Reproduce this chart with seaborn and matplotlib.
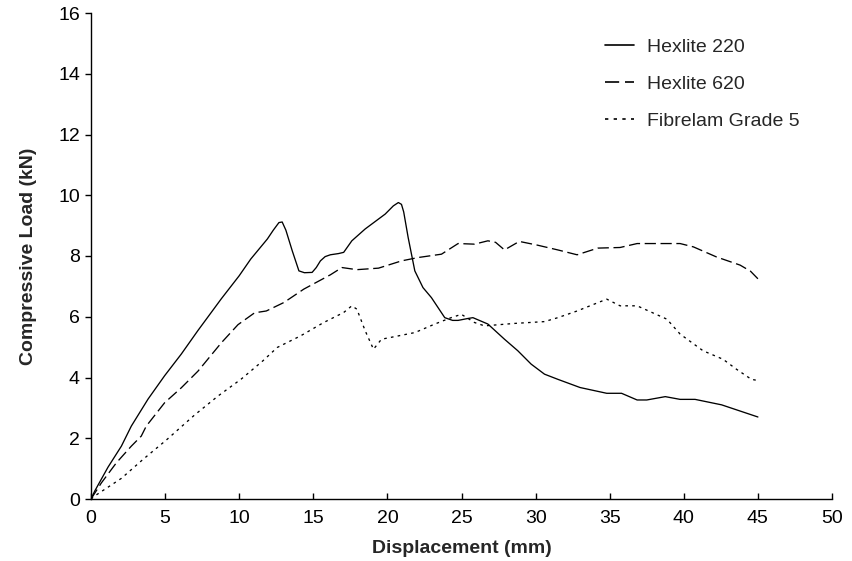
import matplotlib
matplotlib.use("Agg")
import matplotlib.pyplot as plt
import numpy as np
import pandas as pd
import seaborn as sns

# Load-displacement curves for three sandwich panel types
hex220_x = [0, 0.25, 1.15, 2.05, 2.72, 3.85, 4.97, 6.09, 7.22, 7.9, 8.79, 10.0,
            10.78, 11.9, 12.3, 12.68, 12.9, 13.15, 13.58, 14.03, 14.4, 14.92, 15.2,
            15.48, 15.8, 16.15, 16.7, 17.05, 17.6, 18.5, 19.85, 20.4, 20.74, 20.95,
            21.1, 21.4, 21.85, 22.4, 22.97, 23.87, 24.4, 24.77, 25.4, 25.77, 26.78,
            27.9, 28.8, 29.7, 30.6, 31.5, 33.0, 34.8, 35.8, 36.85, 37.5, 38.75,
            39.75, 40.76, 42.55, 45.0]
hex220_y = [0, 0.26, 1.05, 1.74, 2.4, 3.29, 4.06, 4.77, 5.55, 6.0, 6.59, 7.35,
            7.9, 8.56, 8.85, 9.1, 9.12, 8.85, 8.17, 7.51, 7.45, 7.46, 7.62,
            7.84, 7.98, 8.04, 8.08, 8.12, 8.5, 8.89, 9.38, 9.65, 9.76, 9.7,
            9.45, 8.61, 7.51, 6.96, 6.63, 5.97, 5.88, 5.88, 5.94, 5.97, 5.76,
            5.26, 4.88, 4.44, 4.11, 3.94, 3.67, 3.48, 3.48, 3.26, 3.26, 3.37,
            3.28, 3.28, 3.1, 2.7]

hex620_x = [0, 0.7, 1.71, 2.72, 3.39, 3.73, 4.97, 6.09, 7.22, 8.79, 9.92, 11.04,
            11.83, 13.02, 14.36, 16.15, 16.93, 17.94, 19.4, 20.96, 22.08, 23.65,
            24.77, 25.88, 26.78, 27.3, 27.9, 28.9, 30.1, 31.5, 32.8, 34.2, 35.7,
            36.85, 39.75, 40.65, 42.2, 43.8, 44.5, 45.0]
hex620_y = [0, 0.53, 1.19, 1.74, 2.07, 2.4, 3.17, 3.66, 4.21, 5.14, 5.74, 6.13,
            6.19, 6.47, 6.91, 7.38, 7.62, 7.55, 7.6, 7.84, 7.95, 8.06,
            8.41, 8.39, 8.5, 8.45, 8.2, 8.48, 8.36, 8.2, 8.04, 8.26, 8.28,
            8.41, 8.41, 8.3, 7.97, 7.7, 7.5, 7.25]

fib5_x = [0, 0.25, 2.05, 3.5, 5.08, 7.0, 8.57, 10.14, 11.6, 12.57, 14.14, 15.7,
          17.05, 17.6, 17.94, 18.5, 19.06, 19.6, 20.74, 21.86, 23.2, 24.3, 24.99,
          25.88, 26.55, 28.57, 30.6, 31.5, 32.8, 34.8, 35.7, 36.85, 38.86, 39.75,
          41.3, 42.65, 43.56, 44.56, 45.0]
fib5_y = [0, 0.1, 0.68, 1.3, 1.94, 2.77, 3.39, 3.95, 4.55, 4.99, 5.37, 5.81,
          6.14, 6.36, 6.25, 5.54, 4.93, 5.26, 5.37, 5.48, 5.76, 5.97, 6.08,
          5.81, 5.7, 5.78, 5.84, 5.97, 6.19, 6.58, 6.36, 6.36, 5.92, 5.43,
          4.88, 4.6, 4.27, 3.94, 3.9]

series_names = ["Hexlite 220", "Hexlite 620", "Fibrelam Grade 5"]

frames = []
for name, xs, ys in zip(series_names,
                        [hex220_x, hex620_x, fib5_x],
                        [hex220_y, hex620_y, fib5_y]):
    frames.append(pd.DataFrame({"Displacement": xs, "Load": ys, "Material": name}))
df = pd.concat(frames, ignore_index=True)

sns.set_style("ticks")
plt.rcParams["font.family"] = ["Liberation Sans", "DejaVu Sans"]

fig = plt.figure(figsize=(8.52, 5.61), dpi=100)
ax = fig.add_axes([91 / 852, 62 / 561, (832 - 91) / 852, (499 - 13) / 561])

dash_styles = {
    "Hexlite 220": "",
    "Hexlite 620": (8.5, 3.5),
    "Fibrelam Grade 5": (2.0, 3.2),
}
sns.lineplot(data=df, x="Displacement", y="Load", style="Material",
             style_order=series_names, dashes=dash_styles, color="black",
             linewidth=0.95, sort=False, estimator=None, ax=ax)

ax.set_xlim(0, 50)
ax.set_ylim(0, 16)
ax.set_xticks(np.arange(0, 51, 5))
ax.set_yticks(np.arange(0, 17, 2))

for side in ["top", "right"]:
    ax.spines[side].set_visible(False)
for side in ["left", "bottom"]:
    ax.spines[side].set_color("black")
    ax.spines[side].set_linewidth(1.0)

ax.tick_params(axis="x", direction="in", length=4, width=1, colors="black",
               labelsize=14, pad=8)
ax.tick_params(axis="y", direction="out", length=4, width=1, colors="black",
               labelsize=14, pad=4)

ax.set_xlabel("Displacement (mm)", fontsize=14, fontweight="bold", labelpad=9)
ax.set_ylabel("Compressive Load (kN)", fontsize=14, fontweight="bold", labelpad=15)

leg = ax.legend(loc="upper left", bbox_to_anchor=(0.6705, 0.984), frameon=False,
                fontsize=14, handlelength=1.45, handletextpad=0.7,
                labelspacing=1.0, title=None)
for line in leg.get_lines():
    line.set_linewidth(1.2)
    line.set_color("black")

fig.savefig("out.png", dpi=100)
